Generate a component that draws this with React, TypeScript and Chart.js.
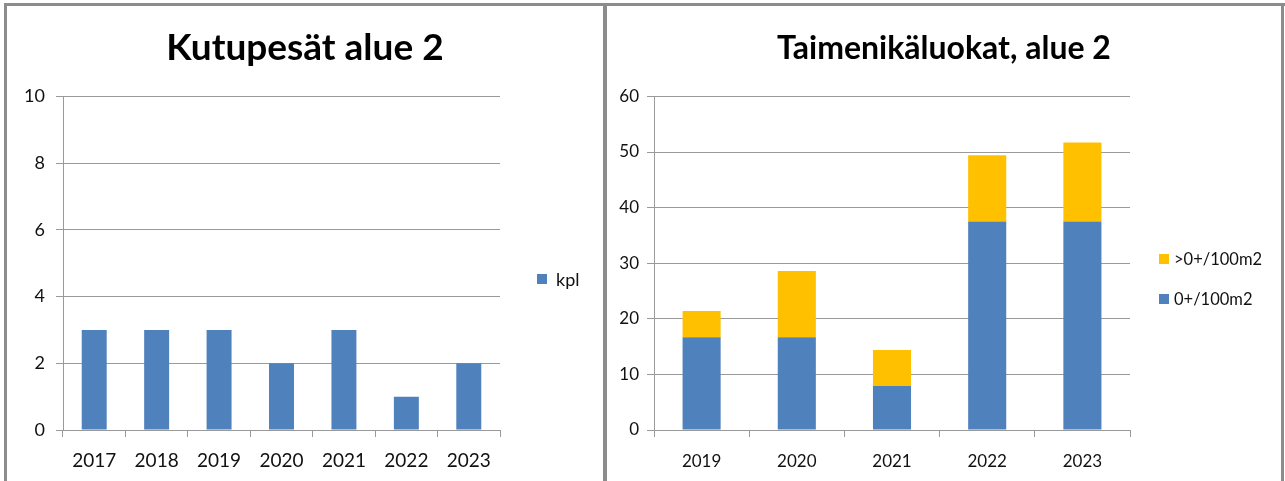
import React, { useEffect, useRef } from 'react';
import { Chart, registerables } from 'chart.js';

Chart.register(...registerables);

// ---- Data: left chart (spawning nests) ----
const nestTitle = 'Kutupesät alue 2';
const nestYears = ['2017', '2018', '2019', '2020', '2021', '2022', '2023'];
const nestCounts = [3, 3, 3, 2, 3, 1, 2];
const nestSeries = 'kpl';
const nestTicksMax = 10;
const nestTicksStep = 2;

// ---- Data: right chart (trout age classes) ----
const troutTitle = 'Taimenikäluokat, alue 2';
const troutYears = ['2019', '2020', '2021', '2022', '2023'];
const fryDensity = [16.7, 16.7, 7.9, 37.5, 37.5];
const olderDensity = [4.7, 11.9, 6.5, 11.9, 14.2];
const frySeries = '0+/100m2';
const olderSeries = '>0+/100m2';
const troutTicksMax = 60;
const troutTicksStep = 10;

const BLUE = '#4F81BD';
const YELLOW = '#FFC000';
const GRID = '#9a9a9a';
const FRAME = '#8c8c8c';
const TEXT = '#111111';
const FONT = 'Lato';

function makeOptions(opts: {
  title: string;
  titleSize: number;
  yMax: number;
  yStep: number;
  yWidth: number;
  yPad: number;
  xPad: number;
  rightSpace: number;
  tickSize: number;
  xTickSize: number;
  stacked: boolean;
}): any {
  return {
    responsive: false,
    animation: false,
    layout: { padding: 0 },
    plugins: {
      legend: { display: false },
      tooltip: { enabled: false },
      title: {
        display: true,
        text: opts.title,
        color: '#000',
        font: { family: FONT, size: opts.titleSize, weight: 'bold' },
        padding: { top: 20 + (37 - opts.titleSize) * 0.6, bottom: 26 + (37 - opts.titleSize) * 0.6 },
      },
    },
    scales: {
      x: {
        stacked: opts.stacked,
        offset: true,
        grid: {
          display: true,
          offset: true,
          drawOnChartArea: false,
          drawTicks: true,
          tickLength: 7,
          color: GRID,
        },
        border: { display: true, color: GRID },
        ticks: {
          color: TEXT,
          padding: opts.xPad,
          font: { family: FONT, size: opts.xTickSize },
          autoSkip: false,
          maxRotation: 0,
        },
        afterFit: (scale: any) => {
          scale.height = 51;
        },
      },
      y: {
        stacked: opts.stacked,
        min: 0,
        max: opts.yMax,
        grid: {
          color: GRID,
          drawTicks: true,
          tickLength: 7,
        },
        border: { display: true, color: GRID },
        ticks: {
          stepSize: opts.yStep,
          color: TEXT,
          padding: opts.yPad,
          font: { family: FONT, size: opts.tickSize },
        },
        afterFit: (scale: any) => {
          scale.width = opts.yWidth;
        },
      },
      // empty right-hand band that reserves room for the legend
      legendSpace: {
        type: 'linear',
        position: 'right',
        display: true,
        min: 0,
        max: 1,
        grid: { display: false },
        border: { display: false },
        ticks: { display: false },
        afterFit: (scale: any) => {
          scale.width = opts.rightSpace;
        },
      },
    },
  };
}

function NestChart() {
  const ref = useRef<HTMLCanvasElement | null>(null);
  useEffect(() => {
    if (!ref.current) return;
    const chart = new Chart(ref.current, {
      type: 'bar',
      data: {
        labels: nestYears,
        datasets: [
          {
            label: nestSeries,
            data: nestCounts,
            backgroundColor: BLUE,
            borderWidth: 0,
            barPercentage: 0.4,
            categoryPercentage: 1,
          },
        ],
      },
      options: makeOptions({
        title: nestTitle,
        titleSize: 37,
        yMax: nestTicksMax,
        yStep: nestTicksStep,
        yWidth: 56,
        yPad: 11,
        xPad: 12,
        rightSpace: 103,
        tickSize: 18,
        xTickSize: 19,
        stacked: false,
      }),
    });
    return () => chart.destroy();
  }, []);
  return (
    <canvas
      ref={ref}
      width={596}
      height={475}
      style={{ position: 'absolute', left: 7, top: 6, width: 596, height: 475 }}
    />
  );
}

function TroutChart() {
  const ref = useRef<HTMLCanvasElement | null>(null);
  useEffect(() => {
    if (!ref.current) return;
    const chart = new Chart(ref.current, {
      type: 'bar',
      data: {
        labels: troutYears,
        datasets: [
          {
            label: frySeries,
            data: fryDensity,
            backgroundColor: BLUE,
            borderWidth: 0,
            barPercentage: 0.4,
            categoryPercentage: 1,
          },
          {
            label: olderSeries,
            data: olderDensity,
            backgroundColor: YELLOW,
            borderWidth: 0,
            barPercentage: 0.4,
            categoryPercentage: 1,
          },
        ],
      },
      options: makeOptions({
        title: troutTitle,
        titleSize: 32,
        yMax: troutTicksMax,
        yStep: troutTicksStep,
        yWidth: 47,
        yPad: 8,
        xPad: 14,
        rightSpace: 151,
        tickSize: 17,
        xTickSize: 17,
        stacked: true,
      }),
    });
    return () => chart.destroy();
  }, []);
  return (
    <canvas
      ref={ref}
      width={674}
      height={475}
      style={{ position: 'absolute', left: 607, top: 6, width: 674, height: 475 }}
    />
  );
}

function LegendItem(props: { left: number; top: number; color: string; text: string; gap: number; size: number }) {
  return (
    <div
      style={{
        position: 'absolute',
        left: props.left,
        top: props.top,
        height: 20,
        display: 'flex',
        alignItems: 'center',
        fontFamily: FONT,
        fontSize: props.size,
        color: TEXT,
        whiteSpace: 'nowrap',
      }}
    >
      <span style={{ display: 'inline-block', width: 10, height: 10, background: props.color, marginRight: props.gap }} />
      <span>{props.text}</span>
    </div>
  );
}

export default function App() {
  const bar = (left: number, top: number, width: number, height: number) => (
    <div style={{ position: 'absolute', left, top, width, height, background: FRAME }} />
  );
  return (
    <div
      style={{
        position: 'absolute',
        left: 0,
        top: 0,
        width: 1285,
        height: 481,
        overflow: 'hidden',
        background: '#fff',
      }}
    >
      <NestChart />
      <TroutChart />
      {bar(4, 3, 1281, 3)}
      {bar(4, 3, 3, 478)}
      {bar(603, 3, 4, 478)}
      {bar(1281, 3, 3, 478)}
      <LegendItem left={537} top={269} color={BLUE} text={nestSeries} gap={9} size={18} />
      <LegendItem left={1159} top={249} color={YELLOW} text={olderSeries} gap={5} size={16.5} />
      <LegendItem left={1159} top={289} color={BLUE} text={frySeries} gap={5} size={16.5} />
    </div>
  );
}
